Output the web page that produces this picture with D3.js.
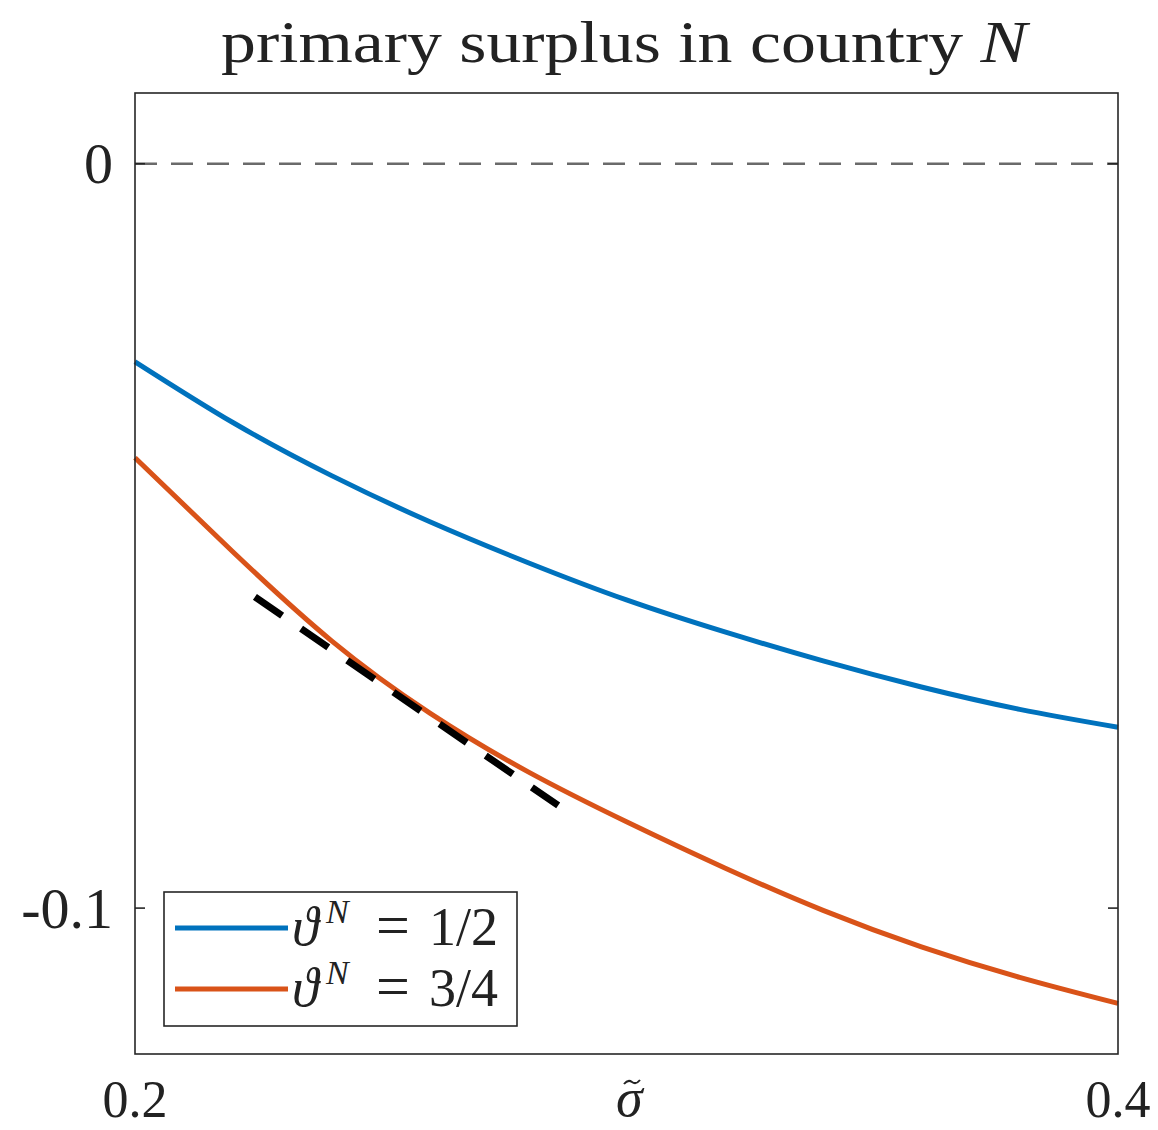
<!DOCTYPE html>
<html>
<head>
<meta charset="utf-8">
<script src="https://cdn.jsdelivr.net/npm/d3@7"></script>
<style>
  html, body { margin: 0; padding: 0; background: #fff; }
  svg { display: block; }
  text { font-family: "Liberation Serif", "DejaVu Serif", serif; fill: #222; }
</style>
</head>
<body>
<svg id="chart" width="1158" height="1130"></svg>
<script>
// sigma tilde grid
const sigma = [0.20, 0.22, 0.24, 0.26, 0.28, 0.30, 0.32, 0.34, 0.36, 0.38, 0.40];
// theta^N = 1/2
const surplusHalf = [-0.0266, -0.0348, -0.0419, -0.0481, -0.0536, -0.0586, -0.0629, -0.0668, -0.0703, -0.0733, -0.0757];
// theta^N = 3/4
const surplusThreeQ = [-0.0395, -0.0522, -0.0641, -0.0738, -0.0817, -0.0884, -0.0946, -0.1003, -0.1052, -0.1093, -0.1128];
// tangent segment (black dashed)
const tangentX = [0.2244, 0.2861];
const tangentY = [-0.0582, -0.0862];

const xTicks = [0.2, 0.4];
const yTicks = [0, -0.1];
const legendLabels = ['1/2', '3/4'];
const colors = ['#0072BD', '#D95319'];

const margin = { left: 135, right: 40, top: 93, bottom: 76 };
const W = 1158, H = 1130;

const svg = d3.select('#chart');

const x = d3.scaleLinear().domain([0.2, 0.4]).range([margin.left, W - margin.right]);
const y = d3.scaleLinear().domain([-0.1196, 0.0095]).range([H - margin.bottom, margin.top]);

const x0 = x.range()[0], x1 = x.range()[1];
const y0 = y.range()[1], y1 = y.range()[0];

// zero reference line
svg.append('line')
  .attr('x1', x0).attr('x2', x1)
  .attr('y1', y(0)).attr('y2', y(0))
  .attr('stroke', '#6a6a6a').attr('stroke-width', 2.5)
  .attr('stroke-dasharray', '22,14');

const line = d3.line().curve(d3.curveNatural);

const series = [surplusHalf, surplusThreeQ];
series.forEach((vals, i) => {
  svg.append('path')
    .attr('d', line(sigma.map((s, j) => [x(s), y(vals[j])])))
    .attr('fill', 'none')
    .attr('stroke', colors[i])
    .attr('stroke-width', 5);
});

// tangent
svg.append('line')
  .attr('x1', x(tangentX[0])).attr('y1', y(tangentY[0]))
  .attr('x2', x(tangentX[1])).attr('y2', y(tangentY[1]))
  .attr('stroke', '#000').attr('stroke-width', 7)
  .attr('stroke-dasharray', '33,23');

// axes box
svg.append('rect')
  .attr('x', x0).attr('y', y0)
  .attr('width', x1 - x0).attr('height', y1 - y0)
  .attr('fill', 'none').attr('stroke', '#262626').attr('stroke-width', 1.6);

// inward ticks on both sides
const tickLen = 10;
yTicks.forEach(t => {
  svg.append('line').attr('x1', x0).attr('x2', x0 + tickLen)
    .attr('y1', y(t)).attr('y2', y(t)).attr('stroke', '#262626').attr('stroke-width', 1.6);
  svg.append('line').attr('x1', x1 - tickLen).attr('x2', x1)
    .attr('y1', y(t)).attr('y2', y(t)).attr('stroke', '#262626').attr('stroke-width', 1.6);
});

// tick labels
const fmtY = d => d === 0 ? '0' : d3.format('.1f')(d).replace('−', '-');
svg.selectAll('text.ytick')
  .data(yTicks).join('text')
  .attr('class', 'ytick')
  .attr('x', x0 - 22).attr('y', d => y(d))
  .attr('dy', '0.34em')
  .attr('text-anchor', 'end')
  .attr('font-size', 58)
  .text(fmtY);

svg.selectAll('text.xtick')
  .data(xTicks).join('text')
  .attr('class', 'xtick')
  .attr('x', d => x(d)).attr('y', 1117)
  .attr('text-anchor', 'middle')
  .attr('font-size', 52)
  .text(d => d3.format('.1f')(d));

// x label: sigma, tilde accent drawn as a small stroke above it
svg.append('text')
  .attr('x', 616).attr('y', 1116)
  .attr('font-size', 54).attr('font-style', 'italic')
  .text('σ');
svg.append('path')
  .attr('d', 'M624,1084 q4,-5 8,-2 t8,-2')
  .attr('fill', 'none').attr('stroke', '#222').attr('stroke-width', 2);

// title
svg.append('text')
  .attr('x', 624).attr('y', 62)
  .attr('text-anchor', 'middle')
  .attr('font-size', 60)
  .attr('textLength', 806).attr('lengthAdjust', 'spacingAndGlyphs')
  .call(t => {
    t.append('tspan').text('primary surplus in country ');
    t.append('tspan').attr('font-style', 'italic').text('N');
  });

// legend
const lg = svg.append('g').attr('transform', 'translate(164,892)');
lg.append('rect').attr('width', 353).attr('height', 134)
  .attr('fill', '#fff').attr('stroke', '#262626').attr('stroke-width', 1.6);
legendLabels.forEach((lab, i) => {
  const ly = 36 + i * 61;
  lg.append('line').attr('x1', 11).attr('x2', 124)
    .attr('y1', ly).attr('y2', ly)
    .attr('stroke', colors[i]).attr('stroke-width', 5);
  const t = lg.append('text').attr('y', ly + 17).attr('font-size', 54);
  t.append('tspan').attr('x', 128).attr('font-style', 'italic').text('ϑ');
  t.append('tspan').attr('x', 162).attr('font-style', 'italic').attr('font-size', 34).attr('dy', -22).text('N');
  t.append('tspan').attr('x', 212).attr('dy', 22).attr('font-size', 60).text('=');
  t.append('tspan').attr('x', 265).text(lab);
});
</script>
</body>
</html>
